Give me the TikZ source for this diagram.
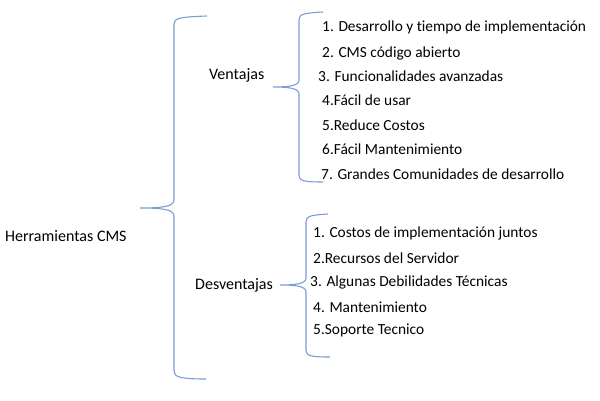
\documentclass[tikz,border=0pt]{standalone}
\usepackage{fontspec}
\setmainfont[Ligatures=NoCommon]{Carlito}
\usepackage{xcolor}
\definecolor{bracecolor}{RGB}{125,155,212}

\begin{document}
\begin{tikzpicture}[x=1pt,y=1pt,
  label/.style={anchor=west, inner sep=0pt, font=\fontsize{16}{18}\selectfont},
  item/.style={anchor=west, inner sep=0pt, font=\fontsize{15.4}{18}\selectfont},
  brace/.style={draw=bracecolor, line width=1.1pt}]
\useasboundingbox (0,0) rectangle (600,400);

 \node[label] (cms) at (5,164) {Herramientas CMS};
 \node[label] (vent) at (209,325) {Ventajas};
 \node[label] (desv) at (195,115) {Desventajas};

 \foreach \x/\y/\t [count=\i] in {
   322/373/1. Desarrollo y tiempo de implementación,
   322/347/2. CMS código abierto,
   318/324/3. Funcionalidades avanzadas,
   322/300/4.Fácil de usar,
   322/275/5.Reduce Costos,
   322/251/6.Fácil Mantenimiento,
   321/226/7. Grandes Comunidades de desarrollo}
   \node[item] (vent-\i) at (\x,\y) {\t};

 \foreach \x/\y/\t [count=\i] in {
   313/167/1. Costos de implementación juntos,
   313/142/2.Recursos del Servidor,
   310/118/3. Algunas Debilidades Técnicas,
   313/93/4. Mantenimiento,
   313/70/5.Soporte Tecnico}
   \node[item] (desv-\i) at (\x,\y) {\t};

 % brace tips and ends
 \coordinate (cms-tip) at (140,192);
 \coordinate (cms-top) at (207,384);
 \coordinate (cms-bot) at (206,21);
 \coordinate (vent-tip) at (273,313);
 \coordinate (vent-top) at (323,388);
 \coordinate (vent-bot) at (323,218);
 \coordinate (desv-tip) at (280,115);
 \coordinate (desv-top) at (328,186);
 \coordinate (desv-bot) at (330,43);

 \draw[brace] (cms-top) .. controls (180,383) and (174,382) .. (174,376)
   -- (174,200) .. controls (174,193) and (160,192) .. (cms-tip)
   .. controls (160,192) and (174,191) .. (174,184)
   -- (174,29) .. controls (174,23) and (180,21) .. (cms-bot);

 \draw[brace] (vent-top) .. controls (304,387) and (299,386) .. (299,380)
   -- (299,320) .. controls (299,314) and (288,313) .. (vent-tip)
   .. controls (288,313) and (299,312) .. (299,306)
   -- (299,225) .. controls (299,219) and (304,218) .. (vent-bot);

 \draw[brace] (desv-top) .. controls (311,185) and (306,184) .. (306,178)
   -- (306,122) .. controls (306,116) and (295,115) .. (desv-tip)
   .. controls (295,115) and (306,114) .. (306,108)
   -- (306,50) .. controls (306,44) and (311,43) .. (desv-bot);
\end{tikzpicture}
\end{document}
